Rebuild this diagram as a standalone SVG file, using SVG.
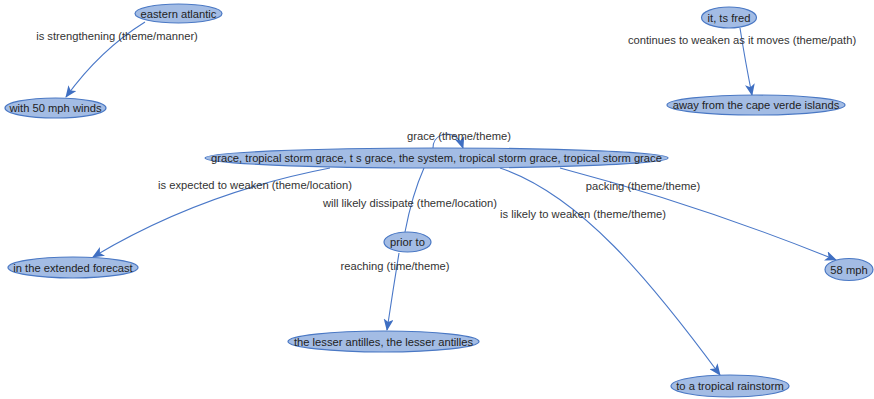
<svg xmlns="http://www.w3.org/2000/svg" width="874" height="399" viewBox="0 0 874 399">
  <style>
    .node ellipse { fill: #a3bce4; stroke: #4a78c4; stroke-width: 1.2; }
    .node text { font-family: "Liberation Sans", Arial, sans-serif; font-size: 11.2px; fill: #222; text-anchor: middle; }
    .edge { fill: none; stroke: #4a78c8; stroke-width: 1.1; }
    .elabel { font-family: "Liberation Sans", Arial, sans-serif; font-size: 11.2px; fill: #333; text-anchor: middle; }
  </style>
  <defs>
    <marker id="arrow" viewBox="0 0 12 10" refX="11" refY="5" markerWidth="12" markerHeight="10" markerUnits="userSpaceOnUse" orient="auto">
      <path d="M0,0 L12,5 L0,10 L3,5 Z" fill="#3f6fc2"/>
    </marker>
  </defs>
  <rect width="874" height="399" fill="#ffffff"/>

  <g id="connectors">
    <path class="edge" d="M145,22 Q100,50 66,97" marker-end="url(#arrow)"/>
    <path class="edge" d="M740,28 Q745,60 752,95" marker-end="url(#arrow)"/>
    <path class="edge" d="M433,148 C433,136 445,131 455,136 C459,139 461,142 463,148" marker-end="url(#arrow)"/>
    <path class="edge" d="M330,168 Q200,193 93,257" marker-end="url(#arrow)"/>
    <path class="edge" d="M424,168 Q412,195 405,232"/>
    <path class="edge" d="M399,253 Q393,290 387,330" marker-end="url(#arrow)"/>
    <path class="edge" d="M500,168 C580,195 650,280 720,375" marker-end="url(#arrow)"/>
    <path class="edge" d="M560,168 Q700,205 836,260" marker-end="url(#arrow)"/>
  </g>

  <g id="edge-labels">
    <text class="elabel" x="117" y="40">is strengthening (theme/manner)</text>
    <text class="elabel" x="742" y="44">continues to weaken as it moves (theme/path)</text>
    <text class="elabel" x="459" y="140">grace (theme/theme)</text>
    <text class="elabel" x="255" y="189">is expected to weaken (theme/location)</text>
    <text class="elabel" x="410" y="207">will likely dissipate (theme/location)</text>
    <text class="elabel" x="583" y="218">is likely to weaken (theme/theme)</text>
    <text class="elabel" x="643" y="190">packing (theme/theme)</text>
    <text class="elabel" x="395" y="270">reaching (time/theme)</text>
  </g>

  <g id="n-eastern-atlantic" class="node">
    <ellipse cx="178.5" cy="13.5" rx="43.5" ry="9.5"/>
    <text x="178.5" y="17.5">eastern atlantic</text>
  </g>
  <g id="n-with-50-mph-winds" class="node">
    <ellipse cx="55.5" cy="108" rx="50.5" ry="10"/>
    <text x="55.5" y="112">with 50 mph winds</text>
  </g>
  <g id="n-ts-fred" class="node">
    <ellipse cx="729" cy="17.5" rx="27.5" ry="10.5"/>
    <text x="729" y="21.5">it, ts fred</text>
  </g>
  <g id="n-cape-verde" class="node">
    <ellipse cx="756" cy="105" rx="89" ry="10"/>
    <text x="756" y="109">away from the cape verde islands</text>
  </g>
  <g id="n-grace" class="node">
    <ellipse cx="436.5" cy="158" rx="231.5" ry="10"/>
    <text x="436.5" y="162">grace, tropical storm grace, t s grace, the system, tropical storm grace, tropical storm grace</text>
  </g>
  <g id="n-extended-forecast" class="node">
    <ellipse cx="73" cy="267.5" rx="65" ry="10.5"/>
    <text x="73" y="271.5">in the extended forecast</text>
  </g>
  <g id="n-prior-to" class="node">
    <ellipse cx="407.5" cy="242" rx="23.5" ry="10"/>
    <text x="407.5" y="246">prior to</text>
  </g>
  <g id="n-lesser-antilles" class="node">
    <ellipse cx="383.5" cy="341.5" rx="95.5" ry="10.5"/>
    <text x="383.5" y="345.5">the lesser antilles, the lesser antilles</text>
  </g>
  <g id="n-58-mph" class="node">
    <ellipse cx="849" cy="269.5" rx="24" ry="11"/>
    <text x="849" y="273.5">58 mph</text>
  </g>
  <g id="n-tropical-rainstorm" class="node">
    <ellipse cx="730" cy="386" rx="59" ry="11"/>
    <text x="730" y="390">to a tropical rainstorm</text>
  </g>
</svg>
